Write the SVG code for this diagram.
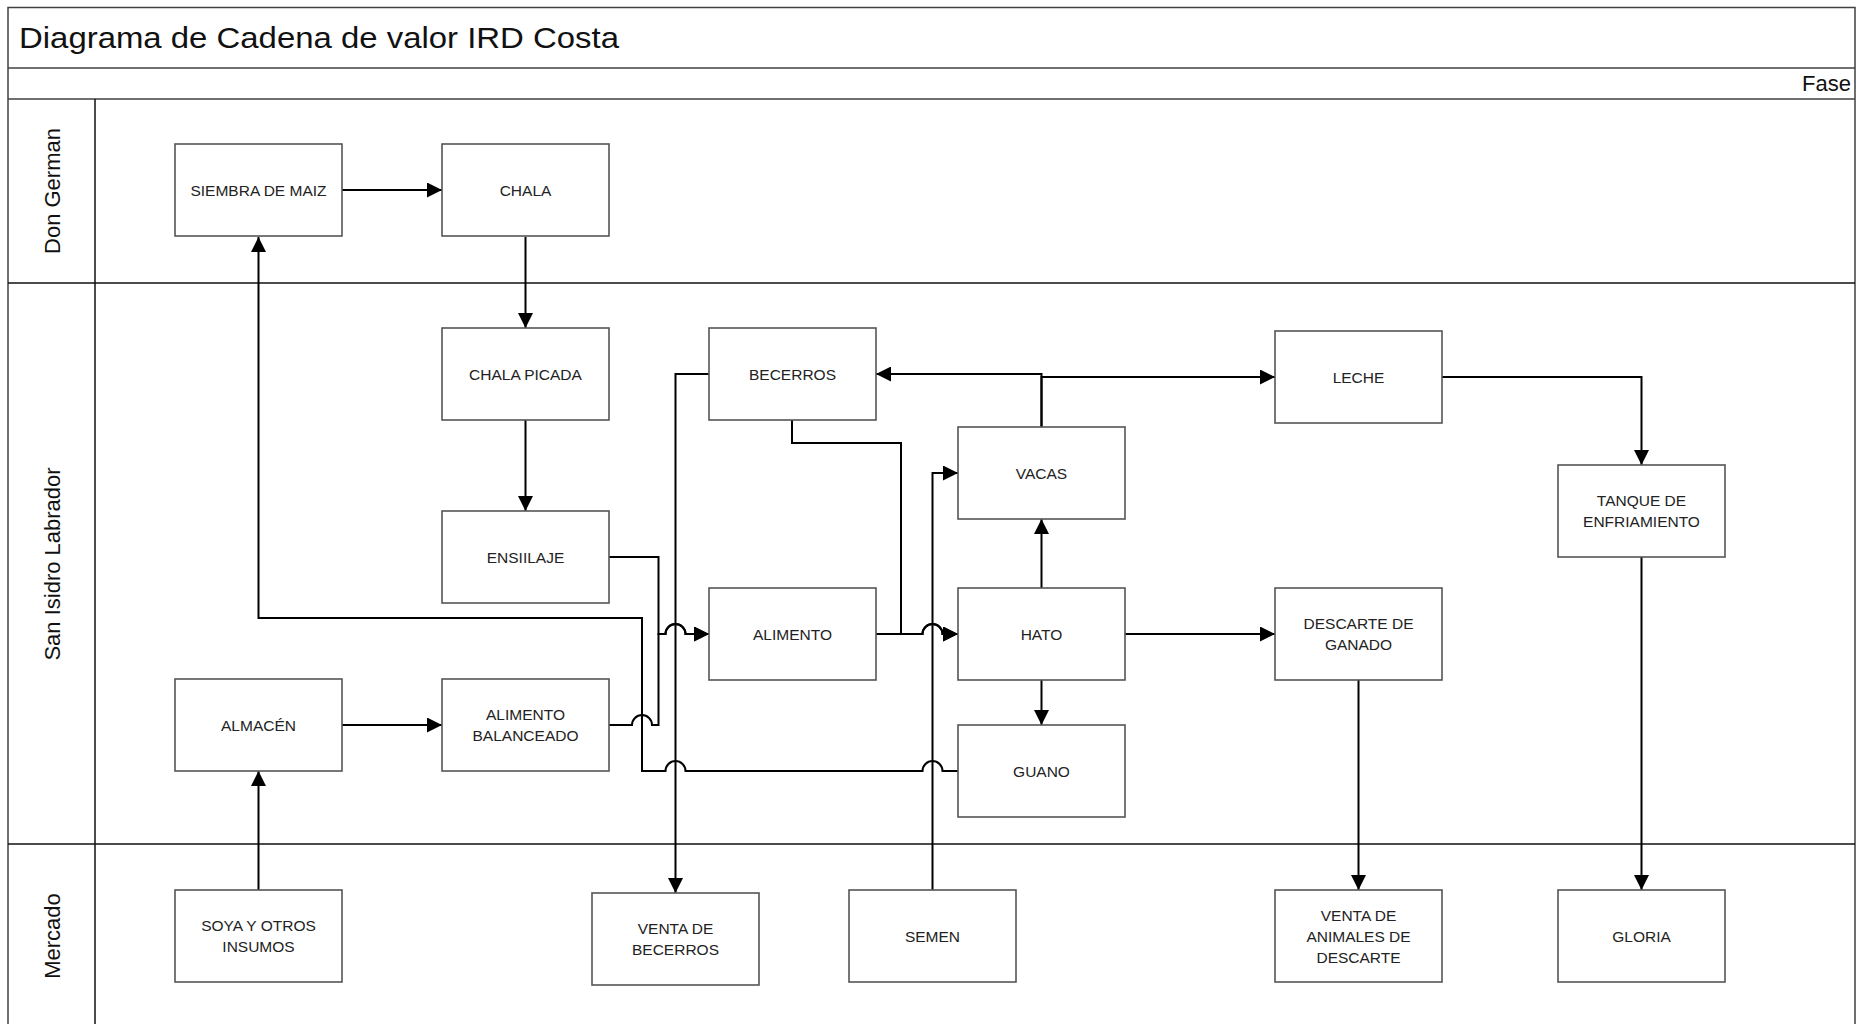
<svg xmlns="http://www.w3.org/2000/svg" width="1861" height="1024" viewBox="0 0 1861 1024">
<style>
.frame{fill:none;stroke:#404040;stroke-width:1.5}
.lane{stroke:#111;stroke-width:1.5;fill:none}
.box{fill:#fff;stroke:#555;stroke-width:1.6}
.lbl{font-family:"Liberation Sans",Arial,sans-serif;font-size:15.5px;fill:#222;text-anchor:middle}
.lanelbl{font-family:"Liberation Sans",Arial,sans-serif;font-size:22px;fill:#111;text-anchor:middle}
.con{fill:none;stroke:#000;stroke-width:2}
.arr{marker-end:url(#ah)}
</style>
<defs>
<marker id="ah" viewBox="0 0 10 10" refX="10" refY="5" markerWidth="16" markerHeight="15" markerUnits="userSpaceOnUse" orient="auto"><path d="M0,0 L10,5 L0,10 z" fill="#000"/></marker>
</defs>
<rect x="0" y="0" width="1861" height="1024" fill="#fff"/>
<g id="pool">
<path class="frame" d="M8,1024 V7.5 H1855 V1024"/>
<line class="frame" x1="8" y1="68" x2="1855" y2="68"/>
<line class="frame" x1="8" y1="99" x2="1855" y2="99"/>
<line class="lane" x1="8" y1="283" x2="1855" y2="283"/>
<line class="lane" x1="8" y1="844" x2="1855" y2="844"/>
<line class="lane" x1="95" y1="99" x2="95" y2="1024"/>
<text x="19" y="48" font-family="'Liberation Sans',Arial,sans-serif" font-size="29" fill="#111" textLength="600" lengthAdjust="spacingAndGlyphs">Diagrama de Cadena de valor IRD Costa</text>
<text x="1851" y="91" font-family="'Liberation Sans',Arial,sans-serif" font-size="22" fill="#111" text-anchor="end">Fase</text>
<text class="lanelbl" transform="translate(60,191) rotate(-90)">Don German</text>
<text class="lanelbl" transform="translate(60,564) rotate(-90)">San Isidro Labrador</text>
<text class="lanelbl" transform="translate(60,936) rotate(-90)">Mercado</text>
</g>
<g id="connectors">
<path class="con arr" d="M342,190 H442"/>
<path class="con arr" d="M525.5,237 V328"/>
<path class="con arr" d="M525.5,420 V511"/>
<path class="con arr" d="M342,725 H442"/>
<path class="con arr" d="M609,557 H658.5 V634 H665.5 a10,10 0 0 1 20,0 H709"/>
<path class="con arr" d="M609,725 H632 a10,10 0 0 1 20,0 H658.5 V634 H665.5 a10,10 0 0 1 20,0 H709"/>
<path class="con arr" d="M958,771 H942.5 a10,10 0 0 0 -20,0 H685.5 a10,10 0 0 0 -20,0 H642 V618 H258.5 V237"/>
<path class="con arr" d="M709,374 H675.5 V893"/>
<path class="con arr" d="M792,420 V443 H901 V634 H922.5 a10,10 0 0 1 20,0 H958"/>
<path class="con arr" d="M875.5,634 H922.5 a10,10 0 0 1 20,0 H958"/>
<path class="con arr" d="M932.5,890 V473 H958"/>
<path class="con arr" d="M1041.5,588 V519"/>
<path class="con arr" d="M1041.5,680 V725"/>
<path class="con arr" d="M1125,634 H1275"/>
<path class="con arr" d="M1041.5,427 V374 H876"/>
<path class="con arr" d="M1041.5,427 V377 H1275"/>
<path class="con arr" d="M1442,377 H1641.5 V465"/>
<path class="con arr" d="M1641.5,557 V890"/>
<path class="con arr" d="M1358.5,680 V890"/>
<path class="con arr" d="M258.5,890 V771"/>
</g>
<g id="siembra"><rect class="box" x="175" y="144" width="167" height="92"/><text class="lbl" x="258.5" y="195.5">SIEMBRA DE MAIZ</text></g>
<g id="chala"><rect class="box" x="442" y="144" width="167" height="92"/><text class="lbl" x="525.5" y="195.5">CHALA</text></g>
<g id="chala-picada"><rect class="box" x="442" y="328" width="167" height="92"/><text class="lbl" x="525.5" y="379.5">CHALA PICADA</text></g>
<g id="ensilaje"><rect class="box" x="442" y="511" width="167" height="92"/><text class="lbl" x="525.5" y="562.5">ENSIILAJE</text></g>
<g id="becerros"><rect class="box" x="709" y="328" width="167" height="92"/><text class="lbl" x="792.5" y="379.5">BECERROS</text></g>
<g id="vacas"><rect class="box" x="958" y="427" width="167" height="92"/><text class="lbl" x="1041.5" y="478.5">VACAS</text></g>
<g id="leche"><rect class="box" x="1275" y="331" width="167" height="92"/><text class="lbl" x="1358.5" y="382.5">LECHE</text></g>
<g id="tanque"><rect class="box" x="1558" y="465" width="167" height="92"/><text class="lbl" x="1641.5" y="506">TANQUE DE</text><text class="lbl" x="1641.5" y="527">ENFRIAMIENTO</text></g>
<g id="alimento"><rect class="box" x="709" y="588" width="167" height="92"/><text class="lbl" x="792.5" y="639.5">ALIMENTO</text></g>
<g id="hato"><rect class="box" x="958" y="588" width="167" height="92"/><text class="lbl" x="1041.5" y="639.5">HATO</text></g>
<g id="descarte"><rect class="box" x="1275" y="588" width="167" height="92"/><text class="lbl" x="1358.5" y="629">DESCARTE DE</text><text class="lbl" x="1358.5" y="650">GANADO</text></g>
<g id="guano"><rect class="box" x="958" y="725" width="167" height="92"/><text class="lbl" x="1041.5" y="776.5">GUANO</text></g>
<g id="almacen"><rect class="box" x="175" y="679" width="167" height="92"/><text class="lbl" x="258.5" y="730.5">ALMACÉN</text></g>
<g id="alimento-balanceado"><rect class="box" x="442" y="679" width="167" height="92"/><text class="lbl" x="525.5" y="720">ALIMENTO</text><text class="lbl" x="525.5" y="741">BALANCEADO</text></g>
<g id="soya"><rect class="box" x="175" y="890" width="167" height="92"/><text class="lbl" x="258.5" y="931">SOYA Y OTROS</text><text class="lbl" x="258.5" y="952">INSUMOS</text></g>
<g id="venta-becerros"><rect class="box" x="592" y="893" width="167" height="92"/><text class="lbl" x="675.5" y="934">VENTA DE</text><text class="lbl" x="675.5" y="955">BECERROS</text></g>
<g id="semen"><rect class="box" x="849" y="890" width="167" height="92"/><text class="lbl" x="932.5" y="941.5">SEMEN</text></g>
<g id="venta-animales"><rect class="box" x="1275" y="890" width="167" height="92"/><text class="lbl" x="1358.5" y="920.5">VENTA DE</text><text class="lbl" x="1358.5" y="941.5">ANIMALES DE</text><text class="lbl" x="1358.5" y="962.5">DESCARTE</text></g>
<g id="gloria"><rect class="box" x="1558" y="890" width="167" height="92"/><text class="lbl" x="1641.5" y="941.5">GLORIA</text></g>
</svg>
